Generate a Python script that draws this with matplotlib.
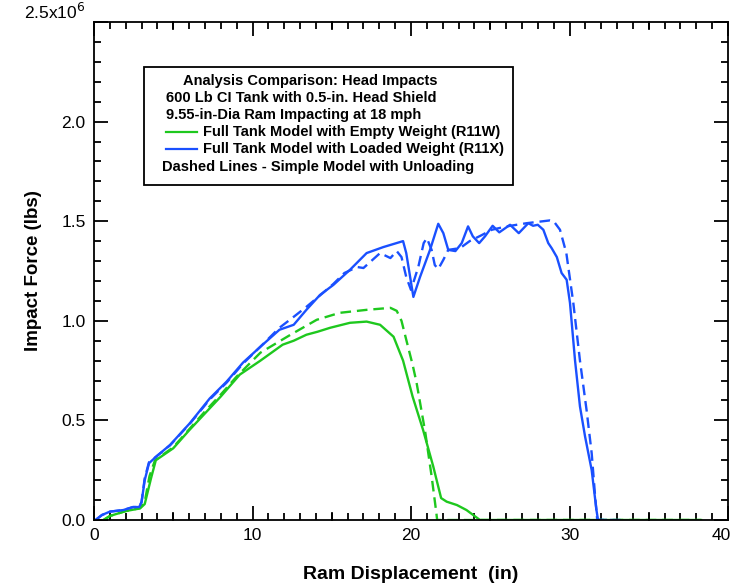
import matplotlib
matplotlib.use("Agg")
import matplotlib.pyplot as plt
from matplotlib.patches import Rectangle
from matplotlib.lines import Line2D
from matplotlib.ticker import MultipleLocator, FixedLocator

plt.rcParams['font.family'] = ['Liberation Sans', 'DejaVu Sans']

# Full tank model, loaded weight (R11X) - solid blue
blue_x = [0.1, 0.5, 1.0, 1.85, 2.46, 2.85, 3.0, 3.2, 3.47, 3.95, 4.8, 6.06, 7.3, 8.37, 9.4, 10.5,
          11.7, 12.6, 13.4, 14.26, 15.1, 16.15, 17.2, 18.25, 19.5, 19.7, 20.15, 20.57, 21.2, 21.72,
          22.04, 22.35, 22.8, 23.2, 23.6, 23.9, 24.3, 24.67, 25.15, 25.57, 26.25, 26.8, 27.4, 27.7,
          28.0, 28.35, 28.66, 28.88, 29.2, 29.5, 29.82, 30.03, 30.35, 30.66, 30.98, 31.4, 31.7, 31.8, 32.3]
blue_y = [0.0, 0.025, 0.042, 0.05, 0.065, 0.065, 0.09, 0.2, 0.285, 0.32, 0.377, 0.487, 0.61, 0.695, 0.79, 0.87,
          0.955, 0.98, 1.055, 1.13, 1.18, 1.256, 1.34, 1.37, 1.40, 1.34, 1.12, 1.22, 1.356, 1.487,
          1.44, 1.356, 1.35, 1.39, 1.474, 1.424, 1.39, 1.424, 1.477, 1.444, 1.482, 1.44, 1.49, 1.477,
          1.482, 1.457, 1.39, 1.364, 1.32, 1.24, 1.206, 1.09, 0.80, 0.57, 0.42, 0.25, 0.05, 0.0, 0.0]

# Simple model with unloading, loaded weight - dashed blue
blue_d_x = [0.1, 0.5, 1.0, 1.85, 2.46, 2.85, 3.0, 3.2, 3.47, 3.95, 4.8, 6.06, 7.3, 8.37, 9.4, 10.5,
            11.7, 12.6, 13.4, 14.3, 15.1, 15.8, 16.6, 17.0, 18.05, 18.7, 19.1, 19.4, 19.7, 20.0, 20.46,
            20.8, 21.0, 21.3, 21.5, 21.72, 22.04, 22.35, 23.1, 23.7, 24.46, 25.1, 26.04, 27.3, 28.77,
            29.0, 29.4, 29.8, 30.24, 30.66, 31.08, 31.4, 31.6, 31.75, 33.5]
blue_d_y = [0.0, 0.025, 0.042, 0.05, 0.065, 0.065, 0.09, 0.21, 0.29, 0.32, 0.375, 0.485, 0.605, 0.69, 0.785, 0.87,
            0.965, 1.02, 1.07, 1.13, 1.185, 1.24, 1.27, 1.265, 1.34, 1.315, 1.35, 1.32, 1.22, 1.155, 1.27,
            1.39, 1.415, 1.356, 1.28, 1.26, 1.306, 1.356, 1.365, 1.40, 1.43, 1.457, 1.474, 1.49, 1.504,
            1.50, 1.457, 1.34, 1.09, 0.80, 0.55, 0.335, 0.135, 0.0, 0.0]

# Full tank model, empty weight (R11W) - solid green
green_x = [0.6, 1.0, 2.0, 2.9, 3.2, 3.6, 3.9, 5.0, 6.0, 7.0, 8.0, 9.2, 10.5, 11.2, 11.9, 12.6, 13.4,
           14.1, 14.9, 16.15, 17.2, 18.05, 18.9, 19.5, 20.1, 20.77, 21.4, 21.9, 22.25, 22.9, 23.5, 24.35, 38.3]
green_y = [0.0, 0.02, 0.045, 0.058, 0.08, 0.21, 0.30, 0.36, 0.45, 0.535, 0.62, 0.73, 0.80, 0.84, 0.88, 0.90, 0.93,
           0.945, 0.965, 0.99, 0.996, 0.98, 0.92, 0.80, 0.62, 0.45, 0.27, 0.11, 0.092, 0.075, 0.05, 0.0, 0.0]

# Simple model with unloading, empty weight - dashed green
green_d_x = [0.6, 1.0, 2.0, 2.9, 3.2, 3.5, 3.85, 5.0, 6.0, 7.0, 8.0, 9.0, 10.5, 12.4, 14.05, 15.5,
             17.2, 18.7, 19.1, 19.4, 19.7, 20.1, 20.35, 20.9, 21.3, 21.6, 21.65, 38.3]
green_d_y = [0.0, 0.02, 0.045, 0.06, 0.09, 0.22, 0.30, 0.365, 0.455, 0.545, 0.63, 0.72, 0.84, 0.93, 1.005, 1.04,
             1.055, 1.065, 1.05, 1.0, 0.905, 0.78, 0.69, 0.44, 0.22, 0.035, 0.0, 0.0]

y_ticks = [0.0, 0.5, 1.0, 1.5, 2.0, 2.5]
y_tick_labels = ['0.0', '0.5', '1.0', '1.5', '2.0', '2.5x10$^6$']
x_ticks = [0, 10, 20, 30, 40]
x_tick_labels = ['0', '10', '20', '30', '40']

legend_lines = [
    "Analysis Comparison: Head Impacts",
    "600 Lb CI Tank with 0.5-in. Head Shield",
    "9.55-in-Dia Ram Impacting at 18 mph",
    "Full Tank Model with Empty Weight (R11W)",
    "Full Tank Model with Loaded Weight (R11X)",
    "Dashed Lines - Simple Model with Unloading",
]

GREEN = '#1ec81e'
BLUE = '#1a50ff'

W, H = 733, 587
fig = plt.figure(figsize=(W / 100, H / 100), dpi=100)
ax = fig.add_axes([94 / W, 1 - 520 / H, (728 - 94) / W, (520 - 22) / H])

lw = 1.7
dash = (0, (4.5, 2.5))
ax.plot(green_d_x, green_d_y, color=GREEN, lw=lw, ls=dash)
ax.plot(green_x, green_y, color=GREEN, lw=lw)
ax.plot(blue_d_x, blue_d_y, color=BLUE, lw=lw, ls=dash)
ax.plot(blue_x, blue_y, color=BLUE, lw=lw)

ax.set_xlim(0, 40)
ax.set_ylim(0, 2.5)
ax.xaxis.set_major_locator(FixedLocator(x_ticks))
ax.xaxis.set_minor_locator(MultipleLocator(1))
ax.yaxis.set_major_locator(FixedLocator(y_ticks))
ax.yaxis.set_minor_locator(MultipleLocator(0.1))
ax.set_yticklabels(y_tick_labels)
# last x label drawn separately so it stays inside the canvas
ax.set_xticklabels(x_tick_labels[:-1] + [''])
ax.tick_params(which='both', direction='in', top=True, right=True, width=1.3, labelsize=12.5, colors='black')
ax.tick_params(which='major', length=10, pad=6)
ax.tick_params(which='minor', length=5)
# medium ticks at multiples of 5 on x
for xv in [5, 15, 25, 35]:
    ax.plot([xv, xv], [0, 0.035], color='black', lw=1.3, clip_on=False)
    ax.plot([xv, xv], [2.5, 2.5 - 0.035], color='black', lw=1.3, clip_on=False)
for sp in ax.spines.values():
    sp.set_linewidth(1.3)
lbls = ax.get_yticklabels()
lbls[-1].set_verticalalignment('bottom')


def fx(px):
    return px / W


def fy(py):
    return 1 - py / H


fig.text(fx(731), fy(528), x_tick_labels[-1], fontsize=12.5, ha='right', va='top')

ax.set_xlabel('Ram Displacement  (in)', fontsize=14, fontweight='bold')
ax.set_ylabel('Impact Force (lbs)', fontsize=13.5, fontweight='bold')
ax.xaxis.set_label_coords(0.5, -0.093)
ax.yaxis.set_label_coords(-0.096, 0.5)
ax.yaxis.label.set_va('center')

# Legend box
fig.patches.append(Rectangle((fx(144), fy(185)), fx(513) - fx(144), fy(67) - fy(185),
                             transform=fig.transFigure, fill=False, edgecolor='black', lw=1.3))
fs = 10.5
ys = [81, 98, 115, 132, 149, 167]
fig.text(fx(183), fy(ys[0]), legend_lines[0], fontsize=fs, fontweight='bold', va='center')
fig.text(fx(166), fy(ys[1]), legend_lines[1], fontsize=fs, fontweight='bold', va='center')
fig.text(fx(166), fy(ys[2]), legend_lines[2], fontsize=fs, fontweight='bold', va='center')
for yy, col, txt in [(ys[3], GREEN, legend_lines[3]), (ys[4], BLUE, legend_lines[4])]:
    fig.add_artist(Line2D([fx(166), fx(197)], [fy(yy), fy(yy)], color=col, lw=1.6,
                          transform=fig.transFigure))
    fig.text(fx(203), fy(yy), txt, fontsize=fs, fontweight='bold', va='center')
fig.text(fx(162), fy(ys[5]), legend_lines[5], fontsize=fs, fontweight='bold', va='center')

fig.savefig('out.png', dpi=100)
